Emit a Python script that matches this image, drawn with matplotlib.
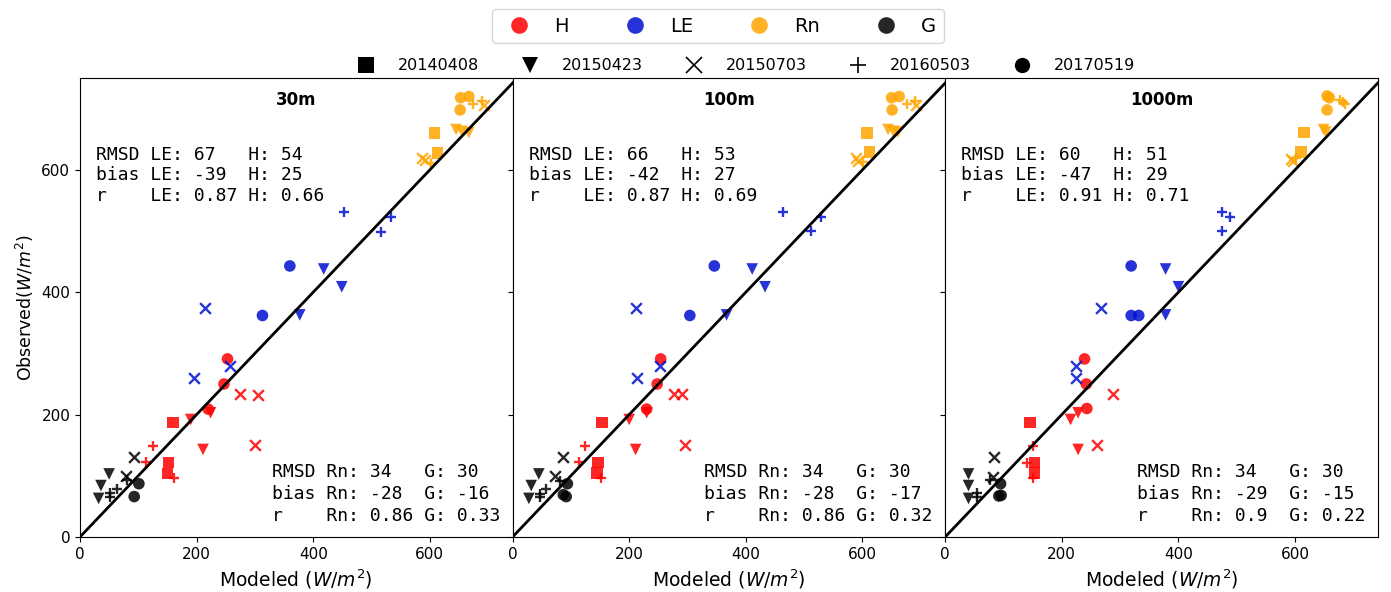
import matplotlib
matplotlib.use("Agg")
import matplotlib.pyplot as plt
from matplotlib.lines import Line2D

# (date, modeled, observed)
dates = ["20140408", "20150423", "20150703", "20160503", "20170519"]
date_markers = ["s", "v", "x", "+", "o"]

H_30 = [("20140408", 160, 187), ("20140408", 152, 122), ("20140408", 150, 104),
        ("20150423", 190, 192), ("20150423", 224, 203), ("20150423", 211, 143),
        ("20150703", 274, 233), ("20150703", 306, 232), ("20150703", 300, 150),
        ("20160503", 125, 148), ("20160503", 114, 122), ("20160503", 162, 96),
        ("20170519", 253, 291), ("20170519", 247, 250), ("20170519", 220, 209)]
LE_30 = [("20150423", 418, 438), ("20150423", 449, 409), ("20150423", 377, 363),
         ("20150703", 214, 375), ("20150703", 257, 280), ("20150703", 196, 260),
         ("20160503", 453, 532), ("20160503", 533, 523), ("20160503", 516, 499),
         ("20170519", 360, 443), ("20170519", 313, 362)]
Rn_30 = [("20140408", 608, 660), ("20140408", 613, 628),
         ("20150423", 645, 666), ("20150423", 655, 663), ("20150423", 667, 661),
         ("20150703", 586, 620), ("20150703", 592, 616), ("20150703", 693, 706),
         ("20160503", 602, 611), ("20160503", 674, 707), ("20160503", 690, 712),
         ("20170519", 653, 718), ("20170519", 667, 720), ("20170519", 652, 698)]
G_30 = [("20150423", 50, 103), ("20150423", 36, 84), ("20150423", 32, 63),
        ("20150703", 92, 131), ("20150703", 79, 99),
        ("20160503", 52, 66), ("20160503", 52, 72), ("20160503", 63, 79), ("20160503", 80, 93),
        ("20170519", 101, 87), ("20170519", 93, 66)]

H_100 = [("20140408", 153, 187), ("20140408", 146, 122), ("20140408", 145, 105),
         ("20150423", 200, 192), ("20150423", 230, 203), ("20150423", 211, 143),
         ("20150703", 277, 233), ("20150703", 290, 233), ("20150703", 296, 150),
         ("20160503", 124, 148), ("20160503", 114, 122), ("20160503", 152, 96),
         ("20170519", 254, 291), ("20170519", 248, 250), ("20170519", 230, 209)]
LE_100 = [("20150423", 411, 438), ("20150423", 433, 409), ("20150423", 367, 363),
          ("20150703", 211, 375), ("20150703", 252, 280), ("20150703", 213, 260),
          ("20160503", 463, 532), ("20160503", 529, 523), ("20160503", 511, 500),
          ("20170519", 346, 443), ("20170519", 304, 362)]
Rn_100 = [("20140408", 608, 660), ("20140408", 612, 629),
          ("20150423", 644, 666), ("20150423", 653, 663), ("20150423", 661, 662),
          ("20150703", 589, 620), ("20150703", 593, 615), ("20150703", 692, 706),
          ("20160503", 601, 613), ("20160503", 676, 707), ("20160503", 690, 712),
          ("20170519", 650, 718), ("20170519", 663, 720), ("20170519", 651, 698)]
G_100 = [("20150423", 45, 103), ("20150423", 32, 84), ("20150423", 28, 63),
         ("20150703", 87, 131), ("20150703", 72, 99),
         ("20160503", 47, 66), ("20160503", 47, 70), ("20160503", 58, 79), ("20160503", 82, 92),
         ("20170519", 94, 87), ("20170519", 87, 69), ("20170519", 92, 66)]

H_1000 = [("20140408", 146, 187), ("20140408", 153, 122), ("20140408", 153, 105),
          ("20150423", 215, 192), ("20150423", 228, 203), ("20150423", 228, 143),
          ("20150703", 287, 233), ("20150703", 260, 150),
          ("20160503", 150, 148), ("20160503", 141, 121), ("20160503", 150, 96),
          ("20170519", 239, 291), ("20170519", 242, 250), ("20170519", 243, 210)]
LE_1000 = [("20150423", 378, 438), ("20150423", 400, 409), ("20150423", 378, 363),
           ("20150703", 268, 375), ("20150703", 225, 280), ("20150703", 225, 260),
           ("20160503", 474, 532), ("20160503", 489, 523), ("20160503", 474, 500),
           ("20170519", 319, 443), ("20170519", 319, 362), ("20170519", 332, 362)]
Rn_1000 = [("20140408", 615, 661), ("20140408", 610, 629),
           ("20150423", 649, 666), ("20150423", 653, 662),
           ("20150703", 594, 618), ("20150703", 597, 614),
           ("20160503", 601, 620), ("20160503", 678, 715), ("20160503", 685, 707), ("20160503", 682, 711),
           ("20170519", 655, 721), ("20170519", 659, 718), ("20170519", 655, 698)]
G_1000 = [("20150423", 40, 103), ("20150423", 40, 84), ("20150423", 40, 63),
          ("20150703", 83, 131), ("20150703", 82, 98),
          ("20160503", 54, 72), ("20160503", 54, 66), ("20160503", 77, 93),
          ("20170519", 95, 87), ("20170519", 92, 67), ("20170519", 96, 68)]

resolutions = ["30m", "100m", "1000m"]
stats_top = [["RMSD LE: 67   H: 54", "bias LE: -39  H: 25", "r    LE: 0.87 H: 0.66"],
             ["RMSD LE: 66   H: 53", "bias LE: -42  H: 27", "r    LE: 0.87 H: 0.69"],
             ["RMSD LE: 60   H: 51", "bias LE: -47  H: 29", "r    LE: 0.91 H: 0.71"]]
stats_bottom = [["RMSD Rn: 34   G: 30", "bias Rn: -28  G: -16", "r    Rn: 0.86 G: 0.33"],
                ["RMSD Rn: 34   G: 30", "bias Rn: -28  G: -17", "r    Rn: 0.86 G: 0.32"],
                ["RMSD Rn: 34   G: 30", "bias Rn: -29  G: -15", "r    Rn: 0.9  G: 0.22"]]

var_names = ["H", "LE", "Rn", "G"]
var_colors = ["red", "#0010d0", "orange", "black"]
panels = [[H_30, LE_30, Rn_30, G_30],
          [H_100, LE_100, Rn_100, G_100],
          [H_1000, LE_1000, Rn_1000, G_1000]]

fig, axes = plt.subplots(1, 3, figsize=(13.91, 5.92), dpi=100, sharey=True)
fig.subplots_adjust(left=0.0575, right=0.9905, bottom=0.093, top=0.868, wspace=0)

for k, ax in enumerate(axes):
    for pts, col in zip(panels[k], var_colors):
        for d, m in zip(dates, date_markers):
            sel = [p for p in pts if p[0] == d]
            if not sel:
                continue
            xs = [p[1] for p in sel]
            ys = [p[2] for p in sel]
            if m in ("x", "+"):
                ax.scatter(xs, ys, marker=m, s=60, color=col, alpha=0.85, linewidths=1.7)
            else:
                ax.scatter(xs, ys, marker=m, s=70, color=col, alpha=0.85, edgecolors="none")
    ax.plot([0, 750], [0, 750], color="black", lw=2)
    ax.set_xlim(0, 742)
    ax.set_ylim(0, 750)
    ax.set_xticks([0, 200, 400, 600])
    ax.set_yticks([0, 200, 400, 600])
    ax.tick_params(labelsize=11)
    ax.set_xlabel("Modeled ($W/m^2$)", fontsize=13.5)
    ax.text(0.5, 0.952, resolutions[k], transform=ax.transAxes, ha="center", va="center",
            fontsize=12, fontweight="bold")
    ax.text(0.037, 0.852, "\n".join(stats_top[k]), transform=ax.transAxes, ha="left", va="top",
            family="DejaVu Sans Mono", fontsize=13, linespacing=1.17)
    ax.text(0.443, 0.025, "\n".join(stats_bottom[k]), transform=ax.transAxes, ha="left",
            va="bottom", family="DejaVu Sans Mono", fontsize=13, linespacing=1.3)
axes[0].set_ylabel("Observed($W/m^2$)", fontsize=12.5)

h1 = [Line2D([], [], ls="none", marker="o", markersize=12, color=c, alpha=0.85,
             markeredgecolor="none") for c in var_colors]
leg1 = fig.legend(h1, var_names, loc="center", bbox_to_anchor=(0.516, 0.956), ncol=4,
                  fontsize=14, columnspacing=2.4, handletextpad=0.8, borderpad=0.4)
h2 = [Line2D([], [], ls="none", marker=m, markersize=11, color="black",
             markeredgewidth=1.2 if m in ("x", "+") else 0) for m in date_markers]
fig.legend(h2, dates, loc="center", bbox_to_anchor=(0.534, 0.889), ncol=5, fontsize=11.5,
           frameon=False, columnspacing=2.2, handletextpad=1.0)

fig.savefig("out.png", dpi=100)
